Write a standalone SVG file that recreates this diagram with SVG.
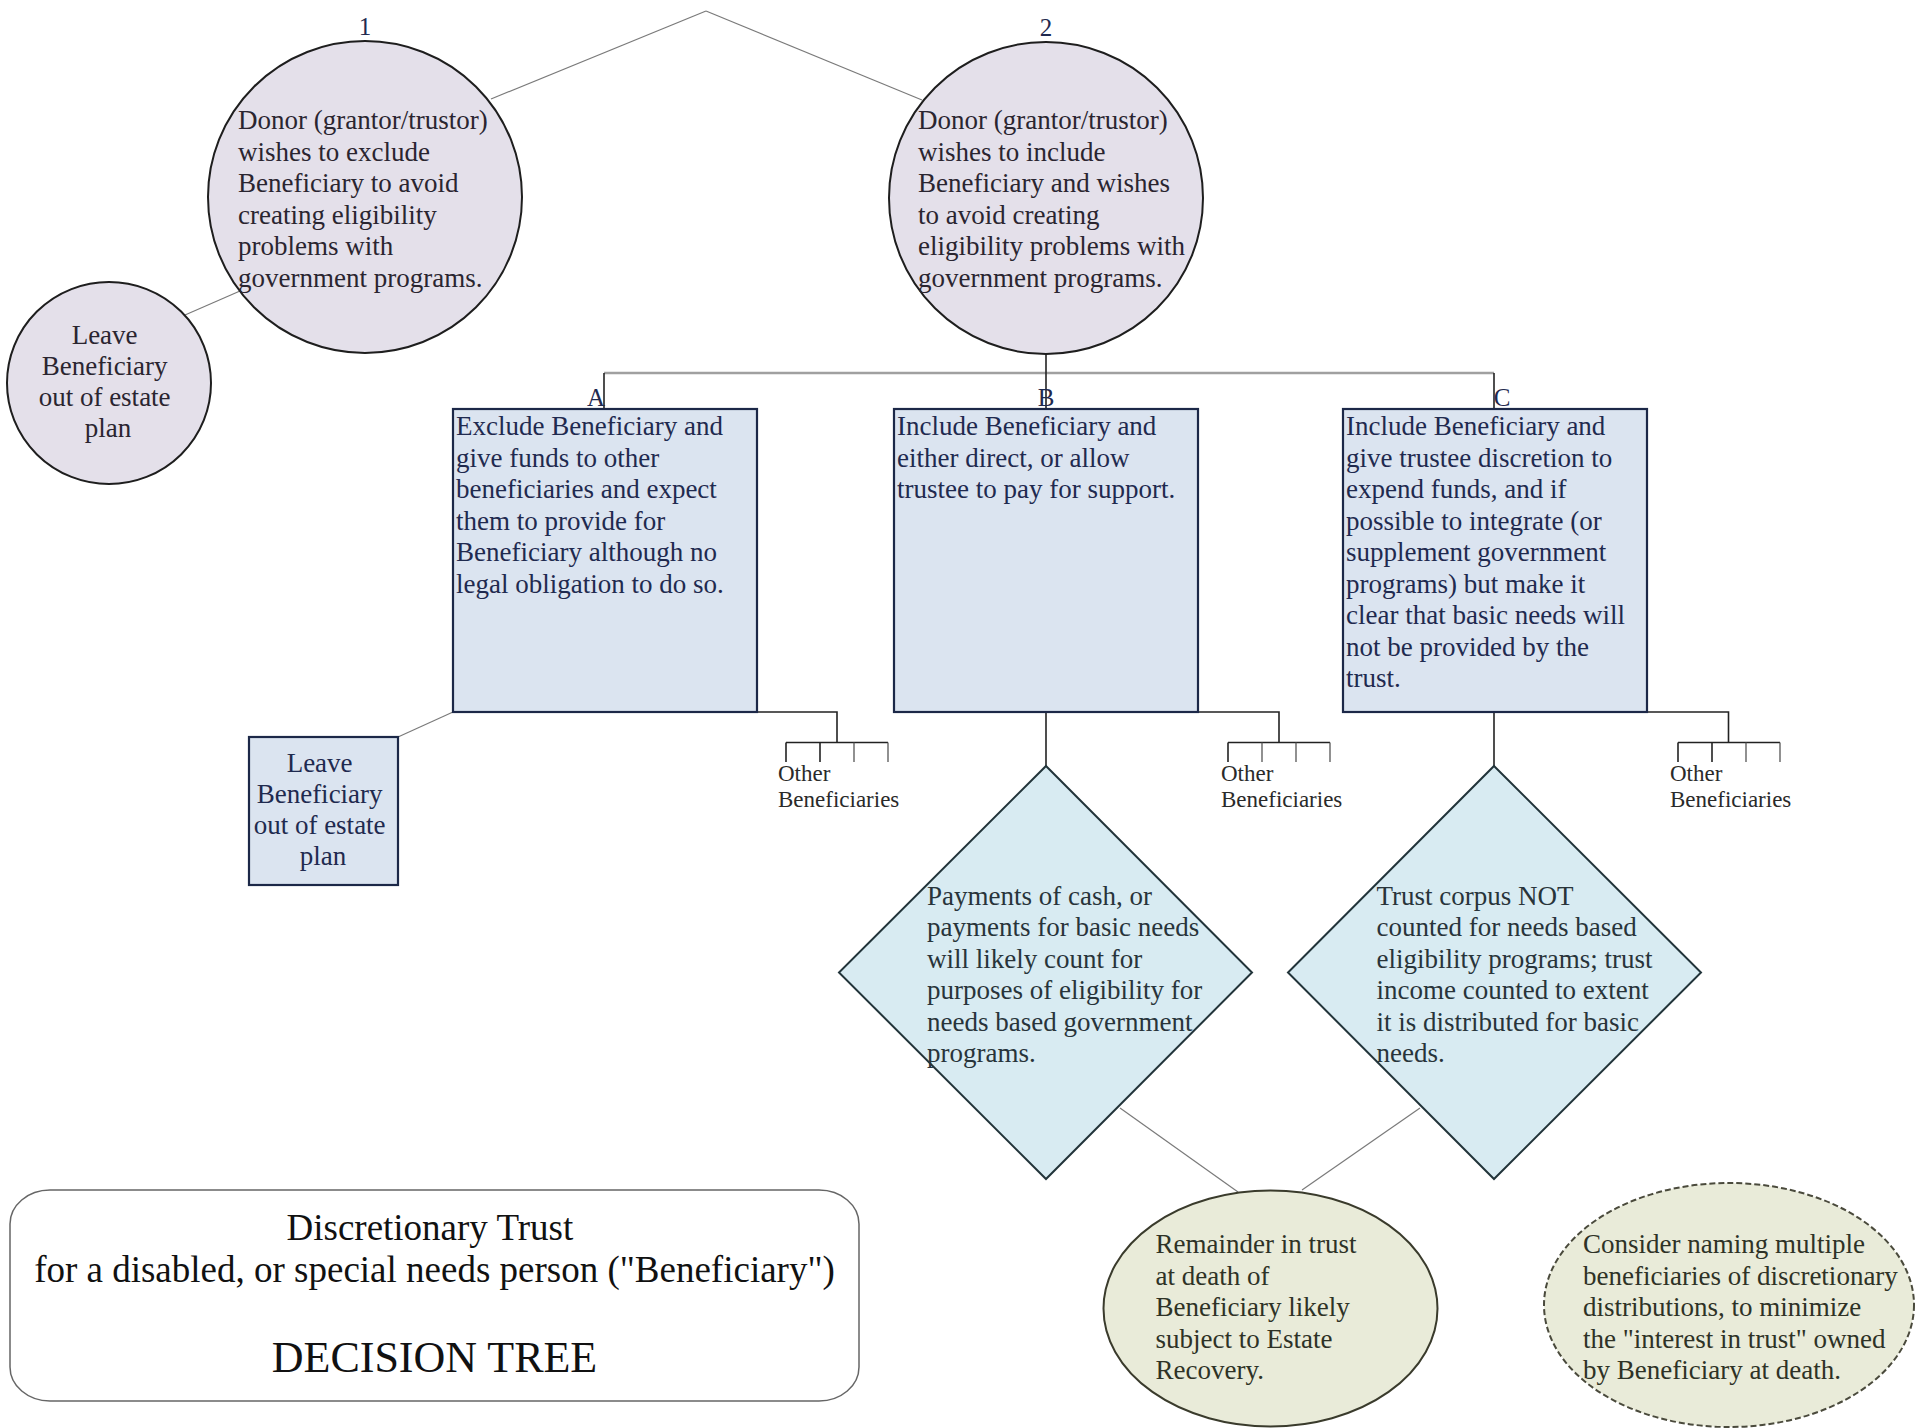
<svg xmlns="http://www.w3.org/2000/svg" width="1915" height="1428" viewBox="0 0 1915 1428">
<style>
.t{font-family:"Liberation Serif","Times New Roman",serif;font-size:27px}
.mid{text-anchor:middle}
.ct{fill:#2a2530}
.bt{fill:#1f2a4f}
.dt{fill:#28343a}
.gt{fill:#2e3226}
.ob{font-family:"Liberation Serif","Times New Roman",serif;font-size:23px;fill:#2a2a2a}
.lbl{font-family:"Liberation Serif","Times New Roman",serif;font-size:25px;fill:#1f2a4f;text-anchor:middle}
.circ{fill:#e4e0ea;stroke:#1e1e1e;stroke-width:2}
.box{fill:#dbe4f0;stroke:#1c2848;stroke-width:2.2}
.dia{fill:#d8ebf2;stroke:#22343a;stroke-width:2}
.olive{fill:#e9ebd9;stroke:#3a3b2c;stroke-width:2}
.dash{fill:#e9ebd9;stroke:#4a4a3c;stroke-width:2;stroke-dasharray:6 3}
.conn{stroke:#7a7a7a;stroke-width:1.2;fill:none}
.dark{stroke:#222;stroke-width:1.6;fill:none}
.thin{stroke:#555;stroke-width:1.3;fill:none}
.bus{stroke:#a0a0a0;stroke-width:2.5;fill:none}
.title{fill:#fff;stroke:#666;stroke-width:1.5}
</style>

<g id="connectors">
  <line class="conn" x1="706" y1="11" x2="491" y2="99"/>
  <line class="conn" x1="706" y1="11" x2="922" y2="100"/>
  <line class="conn" x1="240" y1="291" x2="185" y2="315"/>
  <line class="bus" x1="604" y1="373" x2="1494" y2="373"/>
  <line class="dark" x1="1046" y1="355" x2="1046" y2="409"/>
  <line class="dark" x1="604" y1="373" x2="604" y2="409"/>
  <line class="dark" x1="1494" y1="373" x2="1494" y2="409"/>
  <line class="conn" x1="453" y1="712" x2="398" y2="737"/>
  <!-- other beneficiaries combs -->
  <polyline class="dark" points="757,712 837,712 837,742.5"/>
  <line class="dark" x1="786" y1="742.5" x2="888" y2="742.5"/>
  <line class="dark" x1="786" y1="742.5" x2="786" y2="762"/>
  <line class="dark" x1="820" y1="742.5" x2="820" y2="762"/>
  <line class="thin" x1="854" y1="742.5" x2="854" y2="762"/>
  <line class="thin" x1="888" y1="742.5" x2="888" y2="762"/>
  <polyline class="dark" points="1198,712 1279,712 1279,742.5"/>
  <line class="dark" x1="1228" y1="742.5" x2="1330" y2="742.5"/>
  <line class="dark" x1="1228" y1="742.5" x2="1228" y2="762"/>
  <line class="thin" x1="1262" y1="742.5" x2="1262" y2="762"/>
  <line class="thin" x1="1296" y1="742.5" x2="1296" y2="762"/>
  <line class="thin" x1="1330" y1="742.5" x2="1330" y2="762"/>
  <polyline class="dark" points="1647,712 1728.5,712 1728.5,742.5"/>
  <line class="dark" x1="1678" y1="742.5" x2="1780" y2="742.5"/>
  <line class="dark" x1="1678" y1="742.5" x2="1678" y2="762"/>
  <line class="dark" x1="1712" y1="742.5" x2="1712" y2="762"/>
  <line class="thin" x1="1746" y1="742.5" x2="1746" y2="762"/>
  <line class="thin" x1="1780" y1="742.5" x2="1780" y2="762"/>
  <line class="dark" x1="1046" y1="712" x2="1046" y2="766"/>
  <line class="dark" x1="1494" y1="712" x2="1494" y2="766"/>
  <line class="conn" x1="1120" y1="1108" x2="1238" y2="1192"/>
  <line class="conn" x1="1420" y1="1108" x2="1302" y2="1190"/>
</g>

<g id="node-1">
  <ellipse class="circ" cx="365" cy="197" rx="157" ry="156"/>
  <text class="lbl" x="365" y="35" fill="#222">1</text>
  <text class="t ct">
    <tspan x="238" y="129">Donor (grantor/trustor)</tspan>
    <tspan x="238" y="160.5">wishes to exclude</tspan>
    <tspan x="238" y="192">Beneficiary to avoid</tspan>
    <tspan x="238" y="223.5">creating eligibility</tspan>
    <tspan x="238" y="255">problems with</tspan>
    <tspan x="238" y="286.5">government programs.</tspan>
  </text>
</g>

<g id="node-2">
  <ellipse class="circ" cx="1046" cy="198" rx="157" ry="156"/>
  <text class="lbl" x="1046" y="36">2</text>
  <text class="t ct">
    <tspan x="918" y="129">Donor (grantor/trustor)</tspan>
    <tspan x="918" y="160.5">wishes to include</tspan>
    <tspan x="918" y="192">Beneficiary and wishes</tspan>
    <tspan x="918" y="223.5">to avoid creating</tspan>
    <tspan x="918" y="255">eligibility problems with</tspan>
    <tspan x="918" y="286.5">government programs.</tspan>
  </text>
</g>

<g id="node-leave-1">
  <ellipse class="circ" cx="109" cy="383" rx="102" ry="101"/>
  <text class="t ct mid">
    <tspan x="108" y="344">Leave</tspan>
    <tspan x="108" y="375">Beneficiary</tspan>
    <tspan x="108" y="406">out of estate</tspan>
    <tspan x="108" y="437">plan</tspan>
  </text>
</g>

<g id="node-A">
  <rect class="box" x="453" y="409" width="304" height="303"/>
  <text class="lbl" x="596" y="406">A</text>
  <text class="t bt">
    <tspan x="456" y="435">Exclude Beneficiary and</tspan>
    <tspan x="456" y="466.5">give funds to other</tspan>
    <tspan x="456" y="498">beneficiaries and expect</tspan>
    <tspan x="456" y="529.5">them to provide for</tspan>
    <tspan x="456" y="561">Beneficiary although no</tspan>
    <tspan x="456" y="592.5">legal obligation to do so.</tspan>
  </text>
</g>

<g id="node-B">
  <rect class="box" x="894" y="409" width="304" height="303"/>
  <text class="lbl" x="1046" y="406">B</text>
  <text class="t bt">
    <tspan x="897" y="435">Include Beneficiary and</tspan>
    <tspan x="897" y="466.5">either direct, or allow</tspan>
    <tspan x="897" y="498">trustee to pay for support.</tspan>
  </text>
</g>

<g id="node-C">
  <rect class="box" x="1343" y="409" width="304" height="303"/>
  <text class="lbl" x="1502" y="406">C</text>
  <text class="t bt">
    <tspan x="1346" y="435">Include Beneficiary and</tspan>
    <tspan x="1346" y="466.5">give trustee discretion to</tspan>
    <tspan x="1346" y="498">expend funds, and if</tspan>
    <tspan x="1346" y="529.5">possible to integrate (or</tspan>
    <tspan x="1346" y="561">supplement government</tspan>
    <tspan x="1346" y="592.5">programs) but make it</tspan>
    <tspan x="1346" y="624">clear that basic needs will</tspan>
    <tspan x="1346" y="655.5">not be provided by the</tspan>
    <tspan x="1346" y="687">trust.</tspan>
  </text>
</g>

<g id="node-leave-A">
  <rect class="box" x="249" y="737" width="149" height="148"/>
  <text class="t bt mid">
    <tspan x="323" y="772">Leave</tspan>
    <tspan x="323" y="803">Beneficiary</tspan>
    <tspan x="323" y="834">out of estate</tspan>
    <tspan x="323" y="865">plan</tspan>
  </text>
</g>

<g id="other-A">
  <text class="ob"><tspan x="778" y="781">Other</tspan><tspan x="778" y="807">Beneficiaries</tspan></text>
</g>
<g id="other-B">
  <text class="ob"><tspan x="1221" y="781">Other</tspan><tspan x="1221" y="807">Beneficiaries</tspan></text>
</g>
<g id="other-C">
  <text class="ob"><tspan x="1670" y="781">Other</tspan><tspan x="1670" y="807">Beneficiaries</tspan></text>
</g>

<g id="node-diamond-B">
  <polygon class="dia" points="1046,766 1252,972.5 1046,1179 839,972.5"/>
  <text class="t dt">
    <tspan x="927" y="904.5">Payments of cash, or</tspan>
    <tspan x="927" y="936">payments for basic needs</tspan>
    <tspan x="927" y="967.5">will likely count for</tspan>
    <tspan x="927" y="999">purposes of eligibility for</tspan>
    <tspan x="927" y="1030.5">needs based government</tspan>
    <tspan x="927" y="1062">programs.</tspan>
  </text>
</g>

<g id="node-diamond-C">
  <polygon class="dia" points="1494,766 1701,972.5 1494,1179 1288,972.5"/>
  <text class="t dt">
    <tspan x="1376.5" y="904.5">Trust corpus NOT</tspan>
    <tspan x="1376.5" y="936">counted for needs based</tspan>
    <tspan x="1376.5" y="967.5">eligibility programs; trust</tspan>
    <tspan x="1376.5" y="999">income counted to extent</tspan>
    <tspan x="1376.5" y="1030.5">it is distributed for basic</tspan>
    <tspan x="1376.5" y="1062">needs.</tspan>
  </text>
</g>

<g id="node-remainder">
  <ellipse class="olive" cx="1270.5" cy="1308.5" rx="167" ry="118"/>
  <text class="t gt">
    <tspan x="1155.5" y="1253">Remainder in trust</tspan>
    <tspan x="1155.5" y="1284.5">at death of</tspan>
    <tspan x="1155.5" y="1316">Beneficiary likely</tspan>
    <tspan x="1155.5" y="1347.5">subject to Estate</tspan>
    <tspan x="1155.5" y="1379">Recovery.</tspan>
  </text>
</g>

<g id="node-consider">
  <ellipse class="dash" cx="1729" cy="1305" rx="185" ry="122"/>
  <text class="t gt">
    <tspan x="1583" y="1253">Consider naming multiple</tspan>
    <tspan x="1583" y="1284.5">beneficiaries of discretionary</tspan>
    <tspan x="1583" y="1316">distributions, to minimize</tspan>
    <tspan x="1583" y="1347.5">the "interest in trust" owned</tspan>
    <tspan x="1583" y="1379">by Beneficiary at death.</tspan>
  </text>
</g>

<g id="title">
  <rect class="title" x="10" y="1190" width="849" height="211" rx="40" ry="34"/>
  <text class="t mid" style="font-size:37px" fill="#111">
    <tspan x="434.5" y="1240">Discretionary Trust</tspan>
    <tspan x="434.5" y="1282">for a disabled, or special needs person ("Beneficiary")</tspan>
  </text>
  <text class="t mid" x="434.5" y="1372" style="font-size:44px" fill="#111">DECISION TREE</text>
</g>
</svg>
